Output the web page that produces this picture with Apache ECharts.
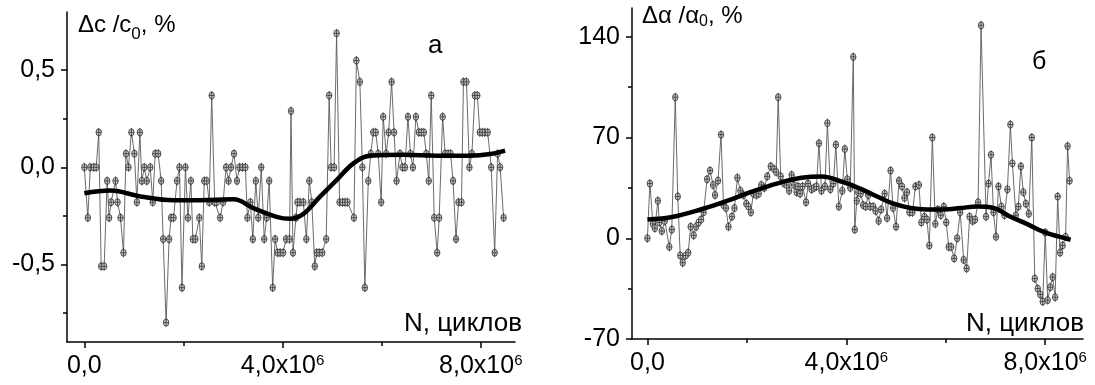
<!DOCTYPE html>
<html>
<head>
<meta charset="utf-8">
<script src="https://cdn.jsdelivr.net/npm/echarts@6/dist/echarts.min.js"></script>
<style>
  html, body { margin: 0; padding: 0; background: #fff; }
  #chart { width: 1095px; height: 385px; }
</style>
</head>
<body>
<div id="chart"></div>
<script>
// Panel "а": relative change of c, % versus number of cycles (x in units of 10^6)
const cyclesA = [0.00,0.07,0.12,0.19,0.24,0.29,0.34,0.40,0.46,0.50,0.54,0.63,0.67,0.73,0.79,0.84,0.89,0.95,1.01,1.06,
  1.12,1.16,1.21,1.26,1.33,1.38,1.43,1.49,1.55,1.59,1.65,1.71,1.75,1.80,1.87,1.92,1.97,2.04,2.09,2.15,
  2.19,2.24,2.32,2.37,2.42,2.47,2.52,2.57,2.63,2.67,2.74,2.80,2.86,2.91,2.96,3.02,3.08,3.13,3.19,3.25,
  3.29,3.35,3.40,3.46,3.51,3.57,3.63,3.68,3.73,3.80,3.85,3.90,
  3.95,4.01,4.07,4.14,4.17,4.21,4.27,4.30,4.35,4.42,4.48,4.54,4.59,4.65,4.69,4.74,4.80,4.88,4.94,4.98,
  5.04,5.09,5.15,5.21,5.26,5.31,5.44,5.49,5.56,5.61,5.66,5.73,5.78,5.83,5.88,5.93,5.99,6.03,6.09,6.14,
  6.20,6.25,6.30,6.37,6.42,6.47,6.53,6.58,6.63,6.69,6.75,6.80,6.85,6.90,6.95,7.00,7.06,7.12,7.16,7.23,
  7.28,7.34,7.39,7.44,7.50,7.55,7.61,7.65,7.71,7.77,7.82,7.88,7.93,7.98,8.03,8.08,8.14,8.21,8.28,8.34,
  8.39,8.46];
const dcA = [0,-0.26,0,0,0,0.18,-0.51,-0.51,-0.07,-0.26,-0.18,-0.07,-0.18,-0.26,-0.44,0.07,0,0.18,0.07,-0.18,
  0.18,-0.07,0,-0.07,0,-0.18,0.07,0.07,-0.07,-0.37,-0.80,-0.37,-0.26,-0.26,-0.07,0,-0.62,0,-0.26,-0.07,
  -0.37,-0.37,-0.26,-0.51,-0.07,-0.07,-0.18,0.37,-0.18,-0.18,-0.26,-0.18,0,-0.07,0,0.07,-0.07,0,0,0,
  -0.26,-0.18,-0.37,-0.07,-0.26,0,-0.37,-0.26,-0.07,-0.62,-0.37,-0.44,
  -0.44,-0.44,-0.37,-0.37,0.29,-0.44,-0.26,-0.18,-0.18,-0.18,-0.37,-0.07,-0.18,-0.51,-0.44,-0.44,-0.44,-0.37,0.37,0,
  0,0.69,-0.18,-0.18,-0.18,-0.18,-0.26,0.55,0.44,0,-0.62,-0.07,0.07,0.18,0.18,0.07,-0.18,0.26,0.07,0.18,
  0.44,0.18,-0.07,0.07,0,0,0.26,0.07,0,0.26,0.18,0.18,0.18,0.07,-0.07,0.37,-0.26,-0.44,-0.26,0.26,
  0.07,0.07,0.07,-0.07,-0.37,-0.18,-0.18,0.44,0.44,0,0.07,0.37,0.37,0.18,0.18,0.18,0.18,0,-0.44,0.07,
  0,-0.26];
// smoothed trend for panel "а"
const trendXA = [0, 0.52, 1.13, 1.80, 2.34, 3.01, 3.41, 3.88, 4.15, 4.42, 4.76, 5.09, 5.43, 5.77, 6.44, 7.11, 7.78, 8.19, 8.49];
const trendYA = [-0.134, -0.12, -0.15, -0.17, -0.17, -0.165, -0.21, -0.255, -0.265, -0.24, -0.15, -0.066, 0.02, 0.06, 0.065, 0.06, 0.06, 0.068, 0.086];

// Panel "б": relative change of alpha, % versus number of cycles (x in units of 10^6)
const cyclesB = [0.00,0.05,0.11,0.15,0.21,0.24,0.29,0.35,0.44,0.49,0.56,0.61,0.66,0.71,0.77,0.82,0.87,0.93,0.98,1.03,
  1.08,1.13,1.20,1.26,1.32,1.36,1.42,1.48,1.53,1.58,1.63,1.70,1.75,1.81,1.87,1.93,1.99,2.03,2.08,2.13,
  2.19,2.24,2.29,2.35,2.41,2.48,2.55,2.59,2.63,2.68,2.75,2.80,2.85,2.90,2.95,3.00,3.03,3.07,3.12,3.19,
  3.23,3.30,3.35,3.40,3.45,3.50,3.57,3.62,3.68,3.74,3.79,3.85,3.92,3.97,4.02,4.08,4.14,4.17,4.21,4.24,
  4.29,4.34,4.39,4.44,4.48,4.54,4.59,4.65,4.70,4.77,4.82,4.89,4.94,5.00,5.06,5.12,5.17,5.22,5.27,5.33,
  5.39,5.46,5.51,5.57,5.62,5.67,5.73,5.79,5.84,5.90,5.96,6.01,6.06,6.11,6.17,6.23,6.29,6.36,6.42,6.48,
  6.54,6.59,6.65,6.71,6.81,6.86,6.91,6.96,7.01,7.06,7.12,7.18,7.24,7.30,7.34,7.41,7.46,7.51,7.56,7.61,
  7.67,7.73,7.79,7.85,7.90,7.95,8.00,8.05,8.10,8.15,8.20,8.25,8.30,8.35,8.41,8.45,8.49];
const daB = [0,38,10,7,26,11,5,12,-6,6,98,29,-12,-17,-12,-10,8,2,8,11,
  13,18,41,47,37,30,40,72,23,21,8,15,21,42,33,30,24,22,18,31,
  30,31,37,35,43,50,48,46,98,43,38,37,33,44,37,32,36,31,36,25,
  38,34,35,36,66,33,36,80,34,38,65,22,33,62,41,35,126,6,26,32,
  31,23,22,30,22,22,19,12,20,31,14,47,21,8,40,36,28,32,18,18,
  36,37,11,15,13,-5,70,10,20,16,22,11,-6,-6,-14,0,18,-15,-21,15,
  12,13,25,148,15,38,58,18,1,36,22,16,34,79,52,16,22,50,32,24,
  17,70,-28,-35,-39,-44,4,-43,-34,-27,-41,29,-10,-5,1,64,40];
// smoothed trend for panel "б"
const trendXB = [0, 0.52, 1.07, 1.60, 2.07, 2.60, 3.10, 3.50, 3.94, 4.28, 4.62, 4.95, 5.29, 5.62, 5.96, 6.29, 6.63, 6.96, 7.30, 7.63, 7.97, 8.51];
const trendYB = [13, 15, 20, 26, 32, 38, 42, 43, 39, 34.5, 29, 24, 21, 20, 20, 21, 22, 21, 15, 10, 4.4, -1];

// tick positions and their labels
const xMajor = [0, 4, 8];
const xMajorText = ['0,0', '4,0x10', '8,0x10'];
const xMajorExp = ['', '6', '6'];
const xMinor = [2, 6];
const yMajorA = [-0.5, 0, 0.5];
const yMajorTextA = ['-0,5', '0,0', '0,5'];
const yMinorA = [-0.75, -0.25, 0.25];
const yMajorB = [-70, 0, 70, 140];
const yMajorTextB = ['-70', '0', '70', '140'];
const yMinorB = [-35, 35, 105];

const FONT = '"Liberation Sans", Arial, sans-serif';
const pairs = (xs, ys) => xs.map((x, i) => [x, ys[i]]);
const lookup = (vals, texts) => v => {
  const i = vals.findIndex(t => Math.abs(t - v) < 1e-9);
  return i < 0 ? '' : texts[i];
};

const xLabelFmt = v => {
  const i = xMajor.findIndex(t => Math.abs(t - v) < 1e-9);
  if (i < 0) return '';
  return '{b|' + xMajorText[i] + '}' + (xMajorExp[i] ? '{sup|' + xMajorExp[i] + '}' : '');
};

const axisLine = { show: true, onZero: false, lineStyle: { color: '#000', width: 1.5 } };
const tickStyle = { color: '#000', width: 1.5 };

function xAxes(gridIndex, min, max) {
  return [{
    type: 'value', gridIndex, min, max, position: 'bottom',
    axisLine,
    splitLine: { show: false },
    axisTick: { show: true, customValues: xMajor, length: 6, lineStyle: tickStyle },
    axisLabel: {
      customValues: xMajor, margin: 11, formatter: xLabelFmt, color: '#000',
      rich: {
        b: { fontFamily: FONT, fontSize: 25, lineHeight: 26, color: '#000' },
        sup: { fontFamily: FONT, fontSize: 15, lineHeight: 15, verticalAlign: 'top', color: '#000' }
      }
    }
  }, {
    type: 'value', gridIndex, min, max, position: 'bottom',
    axisLine: { show: false, onZero: false },
    splitLine: { show: false },
    axisTick: { show: true, customValues: xMinor, length: 4, lineStyle: tickStyle },
    axisLabel: { show: false }
  }];
}

function yAxes(gridIndex, min, max, major, majorText, minor) {
  return [{
    type: 'value', gridIndex, min, max, position: 'left',
    axisLine,
    splitLine: { show: false },
    axisTick: { show: true, customValues: major, length: 6, lineStyle: tickStyle },
    axisLabel: {
      customValues: major, margin: 12, formatter: lookup(major, majorText),
      fontFamily: FONT, fontSize: 25, color: '#000'
    }
  }, {
    type: 'value', gridIndex, min, max, position: 'left',
    axisLine: { show: false, onZero: false },
    splitLine: { show: false },
    axisTick: { show: true, customValues: minor, length: 4, lineStyle: tickStyle },
    axisLabel: { show: false }
  }];
}

// marker: small circle with a cross through it
const crossCircle = 'path://M10,1 L10,19 M3,10 L17,10 M17,10 A7,7 0 1 1 3,10 A7,7 0 1 1 17,10 Z';

function dataSeries(xi, yi, data) {
  return {
    type: 'line', xAxisIndex: xi, yAxisIndex: yi, data,
    symbol: crossCircle, symbolSize: [7, 9], symbolKeepAspect: true,
    showAllSymbol: true,
    lineStyle: { color: '#5a5a5a', width: 0.9 },
    itemStyle: { color: '#c8c8c8', borderColor: '#333', borderWidth: 0.8 },
    z: 2, silent: true
  };
}
function trendSeries(xi, yi, data) {
  return {
    type: 'line', xAxisIndex: xi, yAxisIndex: yi, data,
    smooth: 0.4, symbol: 'none',
    lineStyle: { color: '#000', width: 4.5 },
    z: 3, silent: true
  };
}

function label(text, left, top, size, rich, lineHeight) {
  return {
    text, left, top, padding: 0,
    textStyle: { fontFamily: FONT, fontSize: size, fontWeight: 'normal', color: '#000', lineHeight: lineHeight || size, rich: rich || {} }
  };
}
function richPart(size, lineHeight, align) {
  return { fontFamily: FONT, fontSize: size, lineHeight, verticalAlign: align, color: '#000' };
}

const chart = echarts.init(document.getElementById('chart'), null, { renderer: 'canvas' });
chart.setOption({
  backgroundColor: '#fff',
  animation: false,
  grid: [
    { left: 67, top: 12, width: 448, height: 330 },
    { left: 632, top: 8, width: 451, height: 331 }
  ],
  xAxis: [...xAxes(0, -0.35, 8.69), ...xAxes(1, -0.31, 8.76)],
  yAxis: [...yAxes(0, -0.9, 0.8, yMajorA, yMajorTextA, yMinorA), ...yAxes(1, -70, 160, yMajorB, yMajorTextB, yMinorB)],
  title: [
    label('{m|Δc /c}{s|0}{m|, %}', 78, 7, 24,
      { m: richPart(24, 36, 'middle'), s: richPart(17, 17, 'bottom') }, 36),
    label('{m|Δα /α}{s|0}{m|, %}', 642, 2, 24,
      { m: richPart(24, 28, 'middle'), s: richPart(16, 16, 'bottom') }, 28),
    label('а', 428, 33, 26),
    label('б', 1032, 50, 25),
    label('N, циклов', 404, 311, 26),
    label('N, циклов', 966, 311, 26)
  ],
  series: [
    dataSeries(0, 0, pairs(cyclesA, dcA)),
    trendSeries(0, 0, pairs(trendXA, trendYA)),
    dataSeries(2, 2, pairs(cyclesB, daB)),
    trendSeries(2, 2, pairs(trendXB, trendYB))
  ]
});
</script>
</body>
</html>
